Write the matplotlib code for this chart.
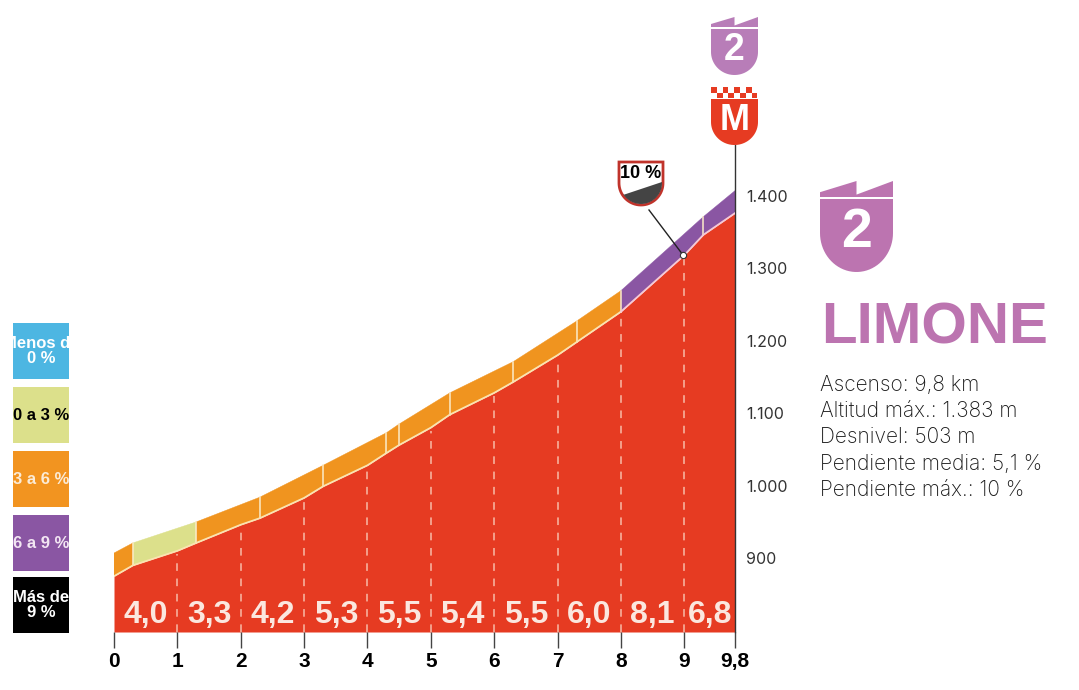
import numpy as np
import matplotlib
matplotlib.use("Agg")
import matplotlib.pyplot as plt
from matplotlib.patches import Polygon, Rectangle

# road profile
km = [0, 0.3, 1, 1.3, 2, 2.3, 3, 3.3, 4, 4.3, 4.5, 5, 5.3, 6, 6.3, 7, 7.3, 8, 9, 9.3, 9.8]
altitude = [875, 890, 910, 921, 946, 955, 983, 999, 1028, 1045, 1056, 1080, 1098, 1128,
            1143, 1180, 1198, 1240, 1318, 1346, 1376]

# coloured band above the road
band_km = [0, 0.3, 1.3, 2.3, 3.3, 4.3, 4.5, 5.3, 6.3, 7.3, 8, 9.3, 9.8]
band_top = [907, 921, 950, 984, 1028, 1073, 1085, 1128, 1171, 1227, 1269, 1371, 1407]
band_class = ["3a6", "0a3", "3a6", "3a6", "3a6", "3a6", "3a6", "3a6", "3a6", "3a6", "6a9", "6a9"]

# slope of each km
slope_pos = [0.5, 1.5, 2.5, 3.5, 4.5, 5.5, 6.5, 7.5, 8.5, 9.4]
slope_labels = ["4,0", "3,3", "4,2", "5,3", "5,5", "5,4", "5,5", "6,0", "8,1", "6,8"]

x_ticks = [0, 1, 2, 3, 4, 5, 6, 7, 8, 9, 9.8]
x_labels = ["0", "1", "2", "3", "4", "5", "6", "7", "8", "9", "9,8"]
y_ticks = [900, 1000, 1100, 1200, 1300, 1400]
y_labels = ["900", "1.000", "1.100", "1.200", "1.300", "1.400"]

legend_labels = ["Menos de\n0 %", "0 a 3 %", "3 a 6 %", "6 a 9 %", "Más de\n9 %"]
legend_colors = ["#4DB6E2", "#DCE08B", "#F29420", "#8A56A3", "#000000"]
legend_text = ["white", "black", "#FBEBD6", "#F3E6F3", "white"]
band_colors = {"0a3": "#DCE08B", "3a6": "#F0941F", "6a9": "#8A56A3"}

info = ["Ascenso: 9,8 km", "Altitud máx.: 1.383 m", "Desnivel: 503 m",
        "Pendiente media: 5,1 %", "Pendiente máx.: 10 %"]

RED = "#E63B22"
PINK = "#BC74B0"
NARROW = ["Liberation Sans Narrow", "Liberation Sans"]
BODY = ["Inter", "DejaVu Sans"]

fig = plt.figure(figsize=(10.79, 6.90), dpi=100)
ax = fig.add_axes([114 / 1079, 58 / 690, 621 / 1079, 487 / 690])
ax.set_xlim(0, 9.8)
ax.set_ylim(798, 1470)

ax.fill_between(km, altitude, 798, color=RED, lw=0, zorder=1)
for i, cls in enumerate(band_class):
    a, b = band_km[i], band_km[i + 1]
    low = [(k, h) for k, h in zip(km, altitude) if a <= k <= b]
    pts = low + [(b, band_top[i + 1]), (a, band_top[i])]
    edge = "#8A56A3" if cls == "6a9" else band_colors[cls]
    ax.add_patch(Polygon(pts, closed=True, fc=band_colors[cls], ec=edge, lw=0.3, zorder=2))
    if i > 0:
        ax.plot([a, a], [np.interp(a, km, altitude), band_top[i]], color="#FBEBC8", lw=1.1, zorder=3)

line_col = "#FBE3B0"
ax.plot(km[:18], altitude[:18], color=line_col, lw=1.3, zorder=3)
ax.plot(km[17:], altitude[17:], color="#F6C9D6", lw=1.3, zorder=3)

for k in x_ticks[1:-1]:
    ax.plot([k, k], [798, np.interp(k, km, altitude) - 4], color="#F8BBA8", lw=1.1,
            dashes=(5, 5), zorder=2)

for p, s in zip(slope_pos, slope_labels):
    ax.text(p, 822, s, color="#FBE7DF", ha="center", va="center", fontsize=23,
            family=NARROW, fontweight="bold", zorder=4)

for side in ["top", "left", "bottom"]:
    ax.spines[side].set_visible(False)
ax.spines["right"].set_color("#333333")
ax.spines["right"].set_linewidth(1)
ax.yaxis.tick_right()
ax.set_yticks(y_ticks, y_labels, family=BODY, fontsize=11.5, color="#333333")
ax.tick_params(axis="y", length=0, pad=8)
ax.set_xticks(x_ticks, x_labels, family=NARROW, fontweight="bold", fontsize=15, color="black")
ax.tick_params(axis="x", length=11.5, width=1, color="#444444", pad=3)

# overlay in pixels for badges, legend and side text
ov = fig.add_axes([0, 0, 1, 1], zorder=5)
ov.set_xlim(0, 1079)
ov.set_ylim(690, 0)
ov.axis("off")
ov.patch.set_alpha(0)


def shield_points(x0, x1, top, straight, bottom):
    t = np.linspace(0, np.pi, 40)
    xc, rx = (x0 + x1) / 2, (x1 - x0) / 2
    arc = np.column_stack([xc + rx * np.cos(t), straight + (bottom - straight) * np.sin(t)])
    return np.vstack([[x0, top], [x1, top], arc])


def flag(x0, x1, top, base, color):
    xc = (x0 + x1) / 2
    ov.add_patch(Polygon([(x0, base), (x0, base - (base - top) * 0.3), (xc, top),
                          (xc, base - (base - top) * 0.15), (x1, top), (x1, base)],
                         closed=True, fc=color, lw=0))


# big category badge
flag(820, 893, 181, 197, PINK)
ov.add_patch(Polygon(shield_points(820, 893, 199, 233, 272), closed=True, fc=PINK, lw=0))
ov.text(856.5, 233, "2", color="white", ha="center", va="center", fontsize=40,
        family=NARROW, fontweight="bold")

# small category badge above the line
flag(711, 758, 17, 27, "#B87DB8")
ov.add_patch(Polygon(shield_points(711, 758, 29, 52, 75), closed=True, fc="#B87DB8", lw=0))
ov.text(734.5, 50, "2", color="white", ha="center", va="center", fontsize=27,
        family=NARROW, fontweight="bold")

# summit badge
ov.add_patch(Polygon(shield_points(711, 758, 99, 122, 145), closed=True, fc=RED, lw=0))
for col in range(8):
    for row in range(2):
        if (col + row) % 2 == 0:
            ov.add_patch(Rectangle((711 + col * 5.8, 87 + row * 5.6), 5.8, 5.6, fc=RED, lw=0))
ov.text(734.5, 120, "M", color="white", ha="center", va="center", fontsize=26,
        family=NARROW, fontweight="bold")

# max slope badge
outline = shield_points(619, 663, 162, 183, 205)
ov.add_patch(Polygon(outline, closed=True, fc="white", ec="#C0332B", lw=2, zorder=2))
t = np.linspace(0, np.pi, 30)
dark = np.vstack([[662, 182], 641 + 21 * np.cos(t[:-6]).reshape(-1, 1)[:0].reshape(0, 2) if False else [662, 183]])
arc = np.column_stack([641 + 21 * np.cos(t[:25]), 183 + 21 * np.sin(t[:25])])
ov.add_patch(Polygon(np.vstack([[662, 182], arc, [623, 195]]), closed=True, fc="#444444", lw=0, zorder=3))
ov.text(641, 173, "10 %", color="black", ha="center", va="center", fontsize=13,
        family=NARROW, fontweight="bold", zorder=4)
ov.plot([649, 683], [210, 255], color="#222222", lw=1, zorder=4)
ov.plot([683], [255], "o", ms=4.5, mfc="white", mec="#333333", mew=0.8, zorder=5)

# legend
legend_tops = [323, 387, 451, 515, 577]
for top, lab, col, tc in zip(legend_tops, legend_labels, legend_colors, legend_text):
    ov.add_patch(Rectangle((13, top), 56, 56, fc=col, lw=0))
    ov.text(41, top + 28, lab, color=tc, ha="center", va="center", fontsize=12,
            family=NARROW, fontweight="bold", linespacing=1.05)

# side text
ov.text(821, 343, "LIMONE", color=PINK, ha="left", va="baseline", fontsize=42,
        family=NARROW, fontweight="bold")
for i, line in enumerate(info):
    ov.text(820, 391 + i * 26.2, line, color="#1A1A1A", ha="left", va="baseline",
            fontsize=15, family=BODY, fontweight="light")

fig.savefig("out.png", dpi=100)
